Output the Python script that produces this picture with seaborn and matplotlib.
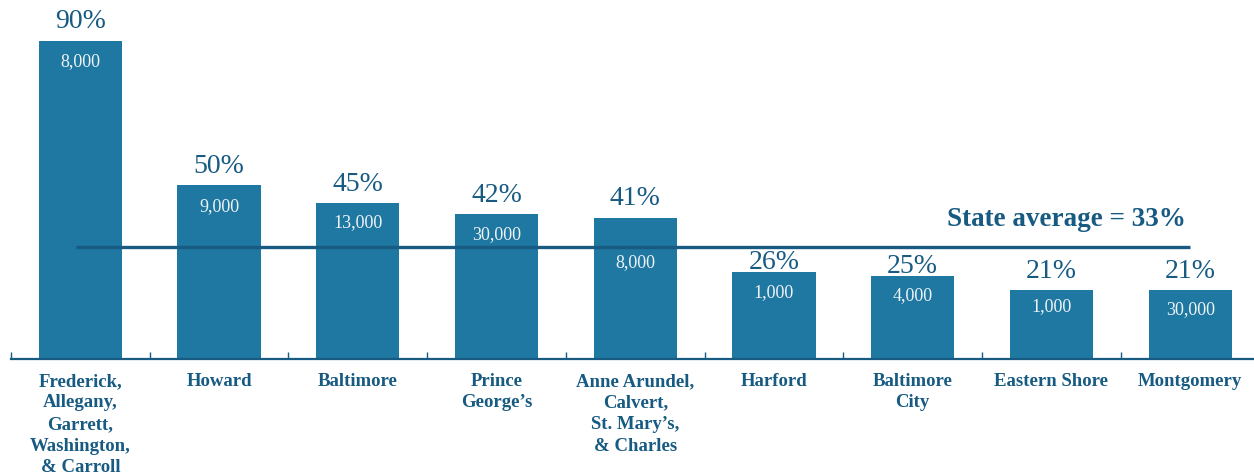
import matplotlib
matplotlib.use("Agg")
import matplotlib.pyplot as plt
import seaborn as sns
import pandas as pd

regions = [
    "Frederick,\nAllegany,\nGarrett,\nWashington,\n& Carroll",
    "Howard",
    "Baltimore",
    "Prince\nGeorge\u2019s",
    "Anne Arundel,\nCalvert,\nSt. Mary\u2019s,\n& Charles",
    "Harford",
    "Baltimore\nCity",
    "Eastern Shore",
    "Montgomery",
]
percents = [90, 50, 45, 42, 41, 26, 25, 21, 21]
counts = ["8,000", "9,000", "13,000", "30,000", "8,000", "1,000", "4,000", "1,000", "30,000"]
state_average = 33

BAR = "#1f78a1"
DARK = "#175a82"
LIGHT = "#eef3f6"

sns.set_theme(style="white")
plt.rcParams["font.family"] = ["Liberation Serif", "DejaVu Serif"]

fig = plt.figure(figsize=(12.54, 4.76), dpi=100)
ax = fig.add_axes([11 / 1254, 1 - 359 / 476, (1254 - 11) / 1254, 359 / 476])

df = pd.DataFrame({"region": regions, "pct": percents})
sns.barplot(data=df, x="region", y="pct", color=BAR, saturation=1,
            width=0.6, ax=ax, edgecolor="none")

ax.set_xlim(-0.5, 8.46)
ax.set_ylim(2, 101.2)

# label offsets (points relative to bar top)
pct_offsets = [9, 9, 9, 9, 9, 2, 2, 9, 9]
count_offsets = [-15, -15, -14, -15, -32, -15, -14, -12, -14]
for i, (p, c) in enumerate(zip(percents, counts)):
    ax.annotate(f"{p}%", (i, p), xytext=(0, pct_offsets[i]), textcoords="offset points",
                ha="center", va="baseline", fontsize=20, color=DARK)
    ax.annotate(c, (i, p), xytext=(0, count_offsets[i]), textcoords="offset points",
                ha="center", va="center", fontsize=13, color=LIGHT)

# state average line
ax.hlines(state_average, -0.03, 8.0, color=DARK, lw=2.4, zorder=3)
ax.annotate(f"State average = {state_average}%", (7.97, state_average),
            xytext=(0, 15), textcoords="offset points", ha="right", va="baseline",
            fontsize=19.5, fontweight="bold", color=DARK)

# axes styling
for s in ["top", "right", "left"]:
    ax.spines[s].set_visible(False)
ax.spines["bottom"].set_color(DARK)
ax.spines["bottom"].set_linewidth(1.6)
ax.set_yticks([])
ax.set_ylabel("")
ax.set_xlabel("")
ax.set_xticks(range(len(regions)))
ax.set_xticklabels(regions, fontsize=13.5, fontweight="bold", color=DARK,
                   linespacing=1.35, va="top")
ax.tick_params(axis="x", which="major", length=0, pad=10)
ax.set_xticks([i - 0.5 for i in range(len(regions))], minor=True)
ax.tick_params(axis="x", which="minor", direction="in", length=5, width=1,
               color=DARK, bottom=True)

fig.savefig("out.png", dpi=100)
